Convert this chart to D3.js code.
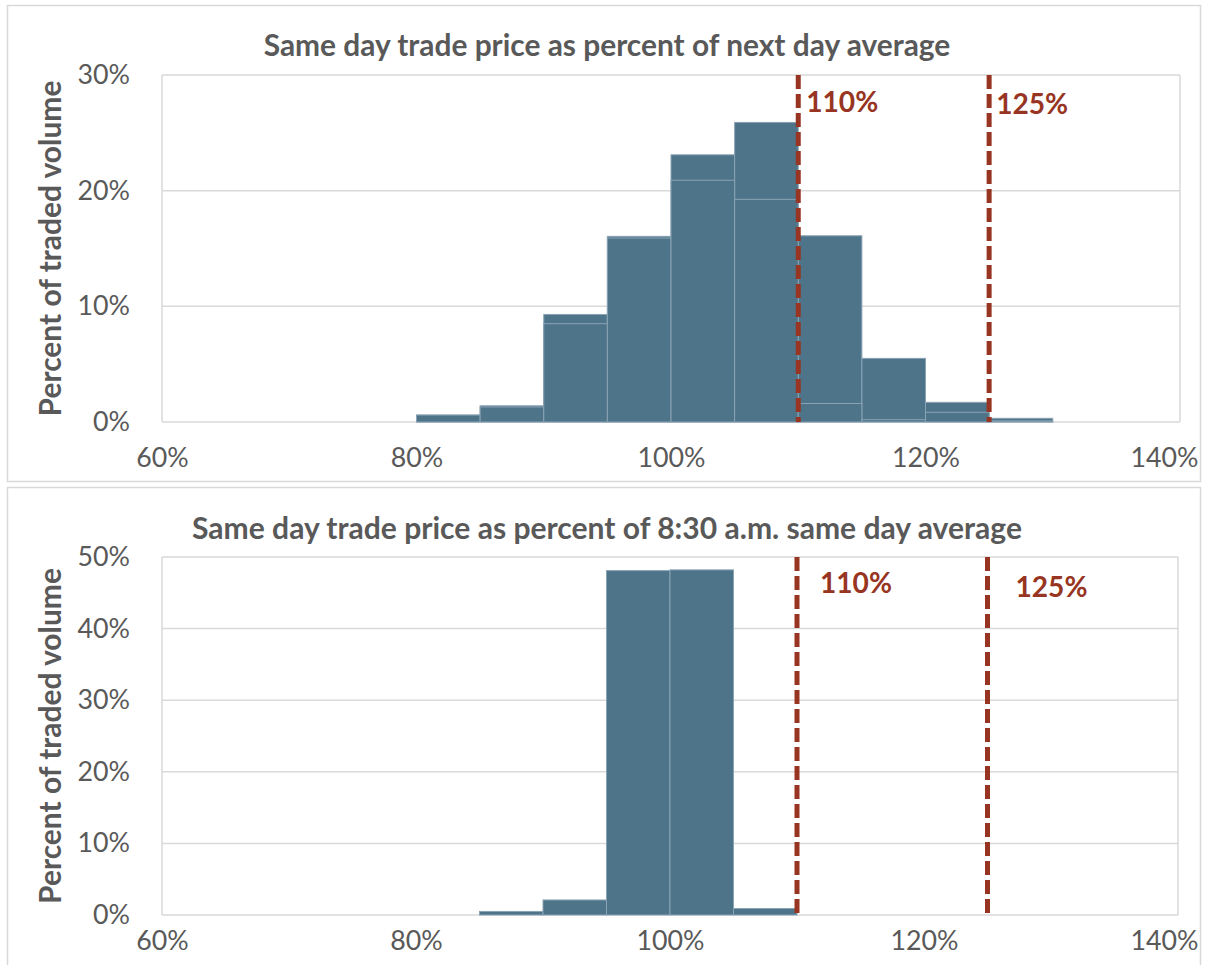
<!DOCTYPE html>
<html>
<head>
<meta charset="utf-8">
<script src="https://cdn.jsdelivr.net/npm/d3@7/dist/d3.min.js"></script>
<style>
  html, body { margin: 0; padding: 0; background: #fff; }
  svg { display: block; }
  text { font-family: Lato, "Open Sans", sans-serif; }
</style>
</head>
<body>
<svg id="chart" width="1207" height="965"></svg>
<script>
// ---------- data ----------
const binStarts = [80, 85, 90, 95, 100, 105, 110, 115, 120, 125];
const binWidth = 5;
// top panel: two overlapping series
const topSeriesA = [0.6, 1.4, 9.3, 16.05, 23.1, 25.9, 16.1, 5.5, 1.7, 0.32];
const topSeriesB = [0.6, 1.3, 8.5, 15.9, 20.9, 19.25, 1.6, 0.2, 0.84, 0.1];
// bottom panel
const bottomBins = [85, 90, 95, 100, 105];
const bottomValues = [0.5, 2.1, 48.1, 48.2, 0.9];

const xTicks = [60, 80, 100, 120, 140];
const topYTicks = [0, 10, 20, 30];
const bottomYTicks = [0, 10, 20, 30, 40, 50];
const thresholds = [110, 125];
const titles = [
  "Same day trade price as percent of next day average",
  "Same day trade price as percent of 8:30 a.m. same day average"
];
const yTitle = "Percent of traded volume";

// ---------- style ----------
const barFill = "#4e7489";
const barStroke = "#8aa3b4";
const redCol = "#973522";
const gridCol = "#d9d9d9";
const textCol = "#595959";

const svg = d3.select("#chart");

function fitFont(sel, targetWidth) {
  sel.style("font-size", "100px");
  const w = sel.node().getComputedTextLength();
  sel.style("font-size", (100 * targetWidth / w) + "px");
}
function measureSize(str, weight, targetWidth) {
  const t = svg.append("text").text(str).style("font-weight", weight).style("font-size", "100px");
  const w = t.node().getComputedTextLength();
  t.remove();
  return 100 * targetWidth / w;
}
const tickSize = measureSize("100%", 400, 68);
const lblSize = measureSize("110%", 700, 72);

// panel borders
svg.append("rect").attr("x", 7.5).attr("y", 5.5).attr("width", 1193).attr("height", 476)
  .attr("fill", "none").attr("stroke", gridCol).attr("stroke-width", 1.5);
svg.append("rect").attr("x", 7.5).attr("y", 487.5).attr("width", 1193).attr("height", 490)
  .attr("fill", "none").attr("stroke", gridCol).attr("stroke-width", 1.5);

function panel(cfg) {
  const x = d3.scaleLinear().domain([60, 140]).range([162, cfg.right]);
  const y = d3.scaleLinear().domain([0, cfg.yMax]).range([cfg.bottom, cfg.top]);
  const g = svg.append("g");

  // gridlines
  g.append("g").selectAll("line").data(cfg.yTicks).join("line")
    .attr("x1", x(60)).attr("x2", x(140))
    .attr("y1", d => y(d)).attr("y2", d => y(d))
    .attr("stroke", gridCol).attr("stroke-width", 1.5);
  // plot frame sides
  g.append("line").attr("x1", x(60)).attr("x2", x(60)).attr("y1", y(0)).attr("y2", y(cfg.yMax))
    .attr("stroke", gridCol).attr("stroke-width", 1.5);
  g.append("line").attr("x1", x(140)).attr("x2", x(140)).attr("y1", y(0)).attr("y2", y(cfg.yMax))
    .attr("stroke", gridCol).attr("stroke-width", 1.5);

  // bars
  cfg.series.forEach(s => {
    g.append("g").selectAll("rect").data(s.bins.map((b, i) => ({ b, v: s.values[i] }))).join("rect")
      .attr("x", d => x(d.b))
      .attr("width", d => x(d.b + binWidth) - x(d.b))
      .attr("y", d => y(d.v))
      .attr("height", d => y(0) - y(d.v))
      .attr("fill", barFill)
      .attr("stroke", barStroke).attr("stroke-width", 1);
  });

  // threshold lines
  g.append("g").selectAll("line").data(thresholds).join("line")
    .attr("x1", d => x(d)).attr("x2", d => x(d))
    .attr("y1", y(cfg.yMax)).attr("y2", y(0))
    .attr("stroke", redCol).attr("stroke-width", 5)
    .attr("stroke-dasharray", "14,5");
  g.append("g").selectAll("text").data(thresholds).join("text")
    .attr("x", (d, i) => x(d) + cfg.lblDx[i])
    .attr("y", (d, i) => cfg.lblY[i])
    .attr("dy", "0.35em")
    .attr("fill", redCol).style("font-weight", 700).style("font-size", lblSize + "px")
    .text(d => d + "%");

  // y axis
  const ya = g.append("g").attr("transform", `translate(${x(60)},0)`)
    .call(d3.axisLeft(y).tickValues(cfg.yTicks).tickFormat(d => d + "%").tickSize(0).tickPadding(32));
  ya.select(".domain").remove();
  ya.selectAll("text").attr("fill", textCol).style("font-size", tickSize + "px")
    .style("font-family", "Lato, 'Open Sans', sans-serif");

  // x axis
  const xa = g.append("g").attr("transform", `translate(0,${cfg.bottom})`)
    .call(d3.axisBottom(x).tickValues(xTicks).tickFormat(d => d + "%").tickSize(0).tickPadding(cfg.xPad));
  xa.select(".domain").remove();
  xa.selectAll("text").attr("fill", textCol).style("font-size", tickSize + "px")
    .style("font-family", "Lato, 'Open Sans', sans-serif");
  // last label is kept inside the frame, as in the reference
  xa.selectAll(".tick").filter(d => d === 140).select("text")
    .attr("text-anchor", "end").attr("x", 1198 - x(140));

  // title
  const t = g.append("text").attr("x", 607).attr("y", cfg.titleY).attr("dy", "0.35em")
    .attr("text-anchor", "middle").attr("fill", textCol).style("font-weight", 700)
    .text(cfg.title);
  fitFont(t, cfg.titleW);

  // y title
  const yt = g.append("text")
    .attr("transform", `translate(50,${(cfg.top + cfg.bottom) / 2}) rotate(-90)`)
    .attr("dy", "0.35em").attr("text-anchor", "middle").attr("fill", textCol)
    .style("font-weight", 700).text(yTitle);
  fitFont(yt, 336);
}

panel({
  top: 75, bottom: 422, right: 1180, yMax: 30, yTicks: topYTicks,
  series: [
    { bins: binStarts, values: topSeriesA },
    { bins: binStarts, values: topSeriesB }
  ],
  lblDx: [8, 7], lblY: [102, 104], xPad: 26, titleY: 46, titleW: 687, title: titles[0]
});
panel({
  top: 557, bottom: 915, right: 1178, yMax: 50, yTicks: bottomYTicks,
  series: [{ bins: bottomBins, values: bottomValues }],
  lblDx: [23, 28], lblY: [583, 587], xPad: 16, titleY: 528, titleW: 830, title: titles[1]
});
</script>
</body>
</html>
